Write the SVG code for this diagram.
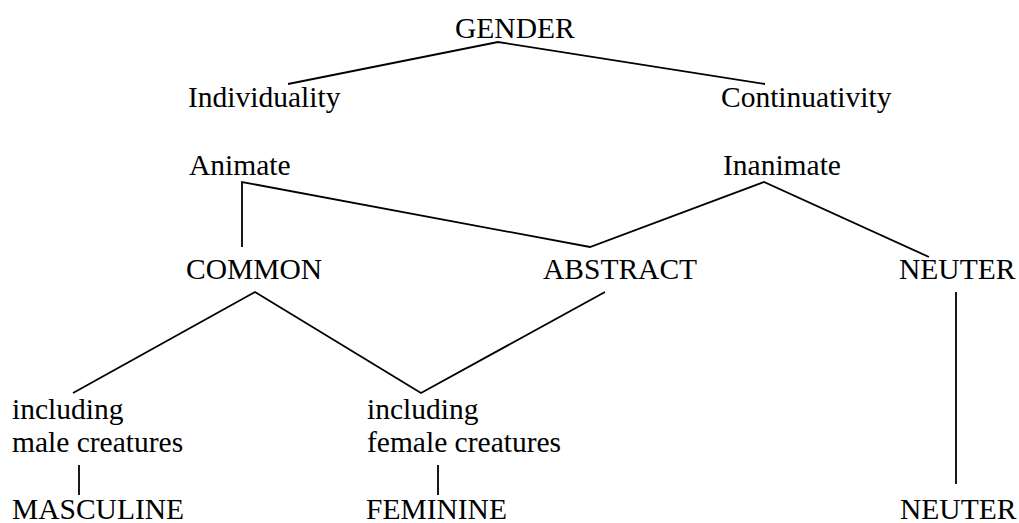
<svg xmlns="http://www.w3.org/2000/svg" width="1019" height="523" viewBox="0 0 1019 523">
<style>
text{font-family:"Liberation Serif","Times New Roman",Times,serif;font-size:29.5px;fill:#000}
.c{fill:none;stroke:#000;stroke-width:1.8;stroke-linejoin:miter}
</style>
<rect width="1019" height="523" fill="#fff"/>
<g id="connectors">
<polyline class="c" points="288,84 498,42 765,84"/>
<polyline class="c" points="242,247 242,182 590,247 764,182 929,257"/>
<polyline class="c" points="73,393 255,292 421,393 605,292"/>
<line class="c" x1="79" y1="465" x2="79" y2="495"/>
<line class="c" x1="438" y1="465" x2="438" y2="495"/>
<line class="c" x1="956" y1="292" x2="956" y2="484"/>
</g>
<g id="gender"><text x="455" y="38">GENDER</text></g>
<g id="individuality"><text x="188" y="107">Individuality</text></g>
<g id="continuativity"><text x="721" y="107">Continuativity</text></g>
<g id="animate"><text x="189" y="175">Animate</text></g>
<g id="inanimate"><text x="723" y="175">Inanimate</text></g>
<g id="common"><text x="186" y="279">COMMON</text></g>
<g id="abstract"><text x="543" y="279">ABSTRACT</text></g>
<g id="neuter1"><text x="899" y="279">NEUTER</text></g>
<g id="male"><text x="12" y="419">including</text><text x="12" y="452">male creatures</text></g>
<g id="female"><text x="367" y="419">including</text><text x="367" y="452">female creatures</text></g>
<g id="masculine"><text x="12" y="519">MASCULINE</text></g>
<g id="feminine"><text x="366" y="519">FEMININE</text></g>
<g id="neuter2"><text x="900" y="519">NEUTER</text></g>
</svg>
